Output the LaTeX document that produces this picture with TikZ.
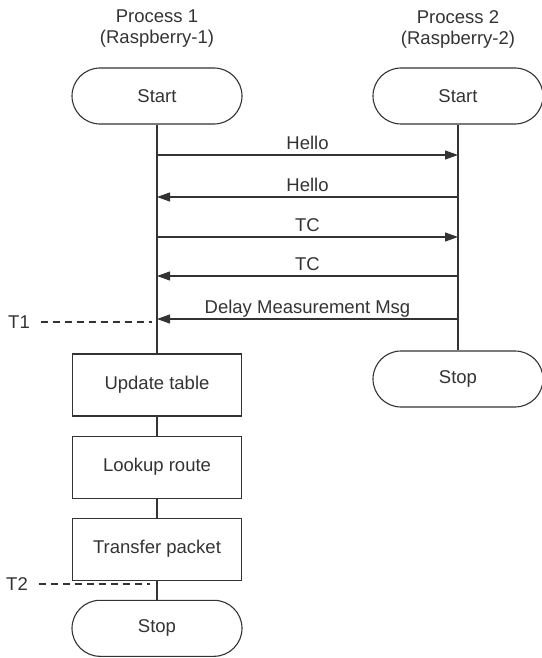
\documentclass[tikz,border=0pt]{standalone}
\usepackage{fontspec}
\setmainfont{Liberation Sans}
\usetikzlibrary{arrows.meta,positioning}

\begin{document}
\begin{tikzpicture}[x=1pt,y=-1pt,>={Triangle[length=13pt,width=9pt]},
    line width=1.1pt,color=black!80,node distance=19pt,
    every node/.style={font=\fontsize{18.5}{21}\selectfont},
    term/.style={draw,rounded corners=28pt,minimum width=170pt,minimum height=56pt},
    task/.style={draw,minimum width=169pt,minimum height=62pt},
    msglabel/.style={anchor=base,yshift=6pt},
    tline/.style={dash pattern=on 7pt off 5pt,shorten <=7pt}]

\useasboundingbox (0,0) rectangle (541,658);

\node[align=center] (p1) at (157,29) {Process 1\\(Raspberry-1)};
\node[align=center] (p2) at (458,29) {Process 2\\(Raspberry-2)};

\node[term] (start1) at (157,96) {Start};
\node[term] (start2) at (458,96) {Start};
\node[task] (update) at (157,385) {Update table};
\node[task] (lookup) [below=of update] {Lookup route};
\node[task] (transfer) [below=of lookup] {Transfer packet};
\node[term] (stop1) [below=of transfer] {Stop};
\node[term] (stop2) at (458,379) {Stop};

% lifelines
\draw (start1) -- (update);
\draw (update) -- (lookup);
\draw (lookup) -- (transfer);
\draw (transfer) -- (stop1);
\draw (start2) -- (stop2);

% messages
\path[->]
(start1 |- 0,155) edge node[msglabel] {Hello} (start2 |- 0,155)
(start2 |- 0,197) edge node[msglabel] {Hello} (start1 |- 0,197)
(start1 |- 0,237) edge node[msglabel] {TC} (start2 |- 0,237)
(start2 |- 0,276) edge node[msglabel] {TC} (start1 |- 0,276)
(start2 |- 0,319) edge node[msglabel] {Delay Measurement Msg} (start1 |- 0,319)
;

% time marks
\node (t1) at (19,322) {T1};
\coordinate (t1end) at (152,322);
\draw[tline] (t1) -- (t1end);
\node (t2) at (17,584) {T2};
\coordinate (t2end) at (150,584);
\draw[tline] (t2) -- (t2end);

\end{tikzpicture}
\end{document}
